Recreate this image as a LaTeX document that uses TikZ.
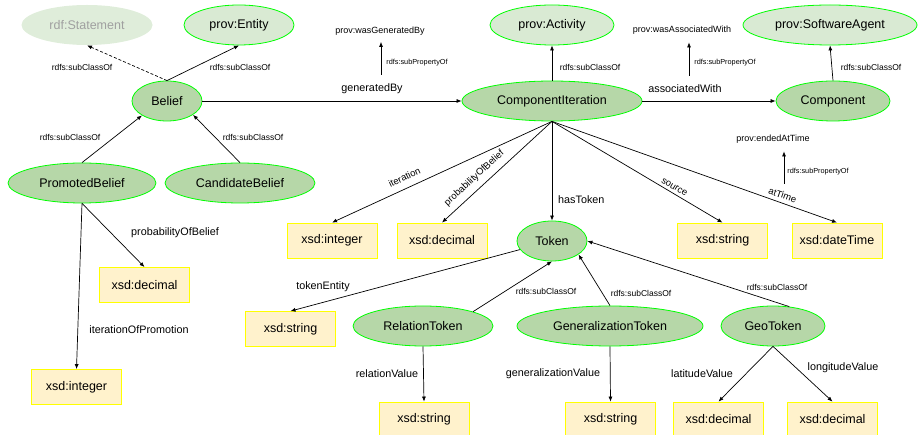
\documentclass[tikz,border=0pt]{standalone}
\usepackage{fontspec}
\setmainfont{Liberation Sans}
\usetikzlibrary{shapes.geometric,arrows.meta}
\definecolor{clsfill}{HTML}{B6D7A8}
\definecolor{extfill}{HTML}{D9EAD3}
\definecolor{gline}{HTML}{00FF00}
\definecolor{dtfill}{HTML}{FFF2CC}
\definecolor{dtline}{HTML}{FFFF00}
\definecolor{fadedtext}{HTML}{A0A0A0}
\begin{document}
\begin{tikzpicture}[x=1pt,y=-1pt,
 cls/.style={ellipse, draw=gline, fill=clsfill, line width=0.8pt, inner sep=0pt, minimum height=40pt, font=\fontsize{12.5}{14}\selectfont},
 ext/.style={cls, fill=extfill},
 faded/.style={cls, fill=extfill!85!white, draw=none, text=fadedtext},
 dtbox/.style={rectangle, draw=dtline, fill=dtfill, line width=0.8pt, minimum width=90pt, minimum height=35pt, inner sep=0pt, font=\fontsize{12.5}{14}\selectfont},
 edge/.style={-{Latex[length=5pt,width=4pt]}, line width=0.7pt},
 lbl/.style={font=\fontsize{10.8}{12}\selectfont, inner sep=0pt},
 rot/.style={font=\fontsize{9.5}{11}\selectfont, inner sep=0pt, sloped},
 sc/.style={font=\fontsize{8.5}{10}\selectfont, inner sep=0pt},
 spl/.style={font=\fontsize{7.3}{9}\selectfont, inner sep=0pt},
 supl/.style={font=\fontsize{9}{11}\selectfont, inner sep=0pt},
]
\useasboundingbox (0,0) rectangle (918,435);

% classes
\node[faded, minimum width=131pt] (stmt) at (87,25) {rdf:Statement};
\node[ext, minimum width=110pt] (entity) at (239,25) {prov:Entity};
\node[cls, minimum width=70pt] (belief) at (167,101) {Belief};
\node[cls, minimum width=148pt] (pb) at (82,183) {PromotedBelief};
\node[cls, minimum width=150pt] (cb) at (240,183) {CandidateBelief};
\node[ext, minimum width=124pt] (act) at (552,25) {prov:Activity};
\node[cls, minimum width=180pt] (ci) at (552,101) {ComponentIteration};
\node[ext, minimum width=174pt] (sw) at (830,25) {prov:SoftwareAgent};
\node[cls, minimum width=114pt] (comp) at (833,101) {Component};
\node[cls, minimum width=70pt] (token) at (552,241) {Token};
\node[cls, minimum width=140pt] (rt) at (423,326) {RelationToken};
\node[cls, minimum width=186pt] (gt) at (610,326) {GeneralizationToken};
\node[cls, minimum width=104pt] (geo) at (773,326) {GeoToken};

% datatypes
\node[dtbox] (int1) at (332,240.5) {xsd:integer};
\node[dtbox] (dec1) at (442,240.5) {xsd:decimal};
\node[dtbox] (str1) at (722.5,240.5) {xsd:string};
\node[dtbox] (dtime) at (837,240.5) {xsd:dateTime};
\node[dtbox] (dec2) at (144.5,285) {xsd:decimal};
\node[dtbox] (int2) at (76.5,387) {xsd:integer};
\node[dtbox] (str0) at (290.5,329) {xsd:string};
\node[dtbox] (str2) at (424,419.5) {xsd:string};
\node[dtbox] (str3) at (610.5,419.5) {xsd:string};
\node[dtbox] (dec3) at (718.5,419.5) {xsd:decimal};
\node[dtbox] (dec4) at (832.5,419.5) {xsd:decimal};

% super properties
\node[supl] (wgb) at (380,31) {prov:wasGeneratedBy};
\node[supl] (waw) at (682,30) {prov:wasAssociatedWith};
\node[supl] (eat) at (773,139) {prov:endedAtTime};
\coordinate (gb0) at (381,75);
\coordinate (aw0) at (689,76);
\coordinate (et0) at (784,184);
\draw[edge, shorten >=6.5pt] (gb0) -- (gb0 |- wgb.south);
\draw[edge, shorten >=8pt] (aw0) -- (aw0 |- waw.south);
\draw[edge, shorten >=8pt] (et0) -- (et0 |- eat.south);
\node[spl] (sp1) at (417,63) {rdfs:subPropertyOf};
\node[spl] (sp2) at (725,63) {rdfs:subPropertyOf};
\node[spl] (sp3) at (818,172) {rdfs:subPropertyOf};

% subclass edges
\draw[edge, dash pattern=on 3pt off 2pt] (belief.north) -- (stmt.south);
\draw[edge] (belief.north) -- (entity.south);
\draw[edge] (pb.north) -- (belief.210);
\draw[edge] (cb.north) -- (belief.-28);
\draw[edge] (ci.north) -- (act.south);
\draw[edge] (comp.north) -- (sw.south);
\draw[edge] (rt.16) -- (token.south);
\draw[edge] (gt.north) -- (token.-27);
\draw[edge] (geo.50) -- (token.east);

\node[sc] (c1) at (82,67) {rdfs:subClassOf};
\node[sc] (c2) at (240,67) {rdfs:subClassOf};
\node[sc] (c3) at (70,137) {rdfs:subClassOf};
\node[sc] (c4) at (253,137) {rdfs:subClassOf};
\node[sc] (c5) at (590,67) {rdfs:subClassOf};
\node[sc] (c6) at (871,67) {rdfs:subClassOf};
\node[sc] (c7) at (546,291) {rdfs:subClassOf};
\node[sc] (c8) at (641,293) {rdfs:subClassOf};
\node[sc] (c9) at (777,287) {rdfs:subClassOf};

% properties
\draw[edge] (belief.east) -- (ci.west);
\draw[edge] (ci.east) -- (comp.west);
\draw[edge] (ci.south) -- (int1.north) node[rot, pos=0.65, above=7pt] {iteration};
\draw[edge] (ci.south) -- (dec1.north) node[rot, pos=0.64, above=6pt] {probabilityOfBelief};
\draw[edge] (ci.south) -- (token.north);
\draw[edge] (ci.south) -- (str1.north) node[rot, pos=0.70, above=3pt] {source};
\draw[edge] (ci.south) -- (dtime.north) node[rot, pos=0.80, above=4pt] {atTime};
\draw[edge] (pb.south) -- (dec2.north);
\draw[edge] (pb.south) -- (int2.north);
\draw[edge] (token) -- (str0.north);
\draw[edge] (rt.south) -- (str2.north);
\draw[edge] (gt.south) -- (str3.north);
\draw[edge] (geo.south) -- (dec3.north);
\draw[edge] (geo.south) -- (dec4.north);

\node[lbl] (p1) at (372,89) {generatedBy};
\node[lbl] (p2) at (685,89) {associatedWith};
\node[lbl, anchor=west] (p3) at (558,200) {hasToken};
\node[lbl] (p4) at (175,233) {probabilityOfBelief};
\node[lbl] (p5) at (139,330) {iterationOfPromotion};
\node[lbl] (p6) at (323,287) {tokenEntity};
\node[lbl] (p7) at (387,374) {relationValue};
\node[lbl] (p8) at (553,374) {generalizationValue};
\node[lbl] (p9) at (702,374) {latitudeValue};
\node[lbl] (p10) at (843,368) {longitudeValue};
\end{tikzpicture}
\end{document}
